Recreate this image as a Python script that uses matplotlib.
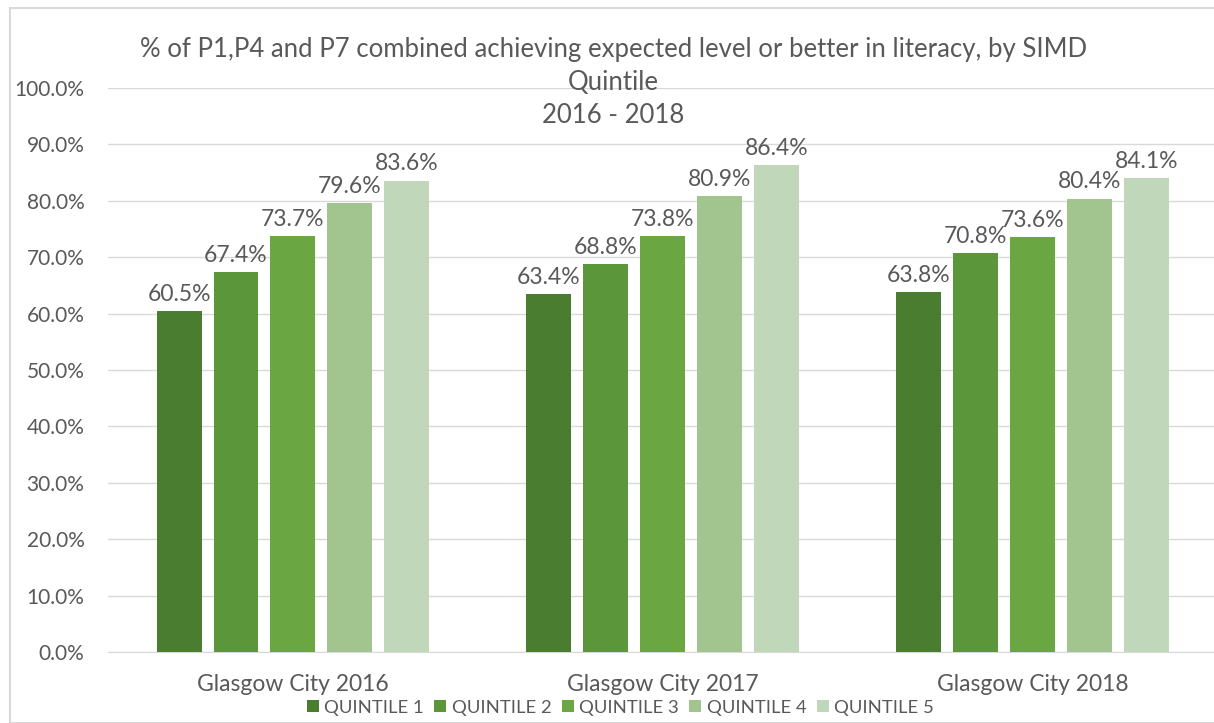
import matplotlib
matplotlib.use("Agg")
import matplotlib.pyplot as plt
import numpy as np
from matplotlib.patches import Rectangle

categories = ["Glasgow City 2016", "Glasgow City 2017", "Glasgow City 2018"]
series_names = ["QUINTILE 1", "QUINTILE 2", "QUINTILE 3", "QUINTILE 4", "QUINTILE 5"]
q1 = [60.5, 63.4, 63.8]
q2 = [67.4, 68.8, 70.8]
q3 = [73.7, 73.8, 73.6]
q4 = [79.6, 80.9, 80.4]
q5 = [83.6, 86.4, 84.1]
series = [q1, q2, q3, q4, q5]
colors = ["#4a7d2f", "#5b973a", "#6aa742", "#a2c48f", "#c1d7b9"]

plt.rcParams['font.family'] = ['Lato', 'DejaVu Sans']
txt = "#595959"

fig = plt.figure(figsize=(12.14, 7.23), dpi=100)
ax = fig.add_axes([0.089, 0.0982, 0.914, 0.780])

x = np.arange(len(categories))
bw = 45 / 370
step = 57 / 370
for i, (vals, c) in enumerate(zip(series, colors)):
    pos = x + (i - 2) * step
    ax.bar(pos, vals, width=bw, color=c, label=series_names[i], zorder=3)
    for p, v in zip(pos, vals):
        ax.text(p, v + 1.1, f"{v:.1f}%", ha="center", va="bottom", fontsize=16.5, color=txt)

ax.set_xlim(-0.5, 2.5)
ax.set_ylim(0, 100)
ax.set_yticks(np.arange(0, 101, 10))
ax.set_yticklabels([f"{t:.1f}%" for t in range(0, 101, 10)])
ax.set_xticks(x)
ax.set_xticklabels(categories)
ax.tick_params(axis="both", length=0, colors=txt)
ax.tick_params(axis="y", pad=17, labelsize=15)
ax.tick_params(axis="x", pad=16, labelsize=16.5)
ax.grid(axis="y", color="#d9d9d9", linewidth=1, zorder=0)
for s in ["top", "right", "left"]:
    ax.spines[s].set_visible(False)
ax.spines["bottom"].set_color("#d9d9d9")

fig.text(0.505, 0.932, "% of P1,P4 and P7 combined achieving expected level or better in literacy, by SIMD",
         ha="center", va="center", fontsize=18.5, color=txt)
fig.text(0.505, 0.886, "Quintile", ha="center", va="center", fontsize=18.5, color=txt)
fig.text(0.505, 0.840, "2016 - 2018", ha="center", va="center", fontsize=18.5, color=txt)

leg = fig.legend(loc="center", bbox_to_anchor=(0.511, 0.021), ncol=5, frameon=False,
                 fontsize=13.3, handlelength=0.65, handleheight=0.65, handletextpad=0.3,
                 columnspacing=0.55)
for t in leg.get_texts():
    t.set_color(txt)

fig.patches.append(Rectangle((10 / 1214, 0), 1.2, 1 - 8 / 723, transform=fig.transFigure,
                             fill=False, edgecolor="#d9d9d9", linewidth=1.5))

fig.savefig("out.png", dpi=100)
